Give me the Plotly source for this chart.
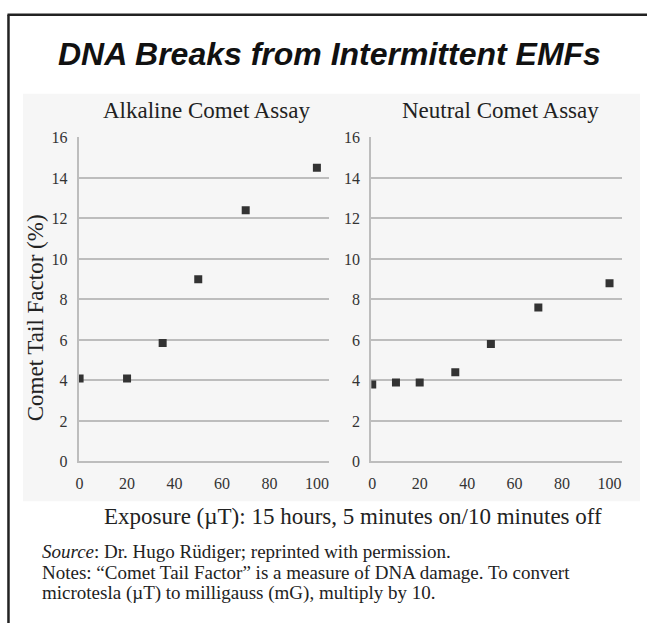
import plotly.graph_objects as go

# ---- data ----
alk_exposure = [0, 20, 35, 50, 70, 100]
alk_ctf = [4.1, 4.1, 5.85, 9.0, 12.4, 14.5]
neu_exposure = [0, 10, 20, 35, 50, 70, 100]
neu_ctf = [3.8, 3.9, 3.9, 4.4, 5.8, 7.6, 8.8]
x_ticks = [0, 20, 40, 60, 80, 100]
y_ticks = [0, 2, 4, 6, 8, 10, 12, 14, 16]

W, H = 647, 632
def px(x):
    return x / W
def py(y):
    return 1 - y / H

SERIF = "Liberation Serif, Times New Roman, serif"
SANS = "Liberation Sans, Arial, sans-serif"
GRID = "#bdbdbd"
MARK = "#333333"

fig = go.Figure()
fig.add_trace(go.Scatter(x=alk_exposure, y=alk_ctf, mode="markers", xaxis="x", yaxis="y",
                         marker=dict(symbol="square", size=8, color=MARK), showlegend=False))
fig.add_trace(go.Scatter(x=neu_exposure, y=neu_ctf, mode="markers", xaxis="x2", yaxis="y2",
                         marker=dict(symbol="square", size=8, color=MARK), showlegend=False))

axis_common_x = dict(range=[-0.4, 105.3], tickvals=x_ticks, showgrid=False, zeroline=False,
                     showline=True, linecolor=GRID, linewidth=2, ticks="",
                     tickfont=dict(family=SERIF, size=16, color="#333"), ticklabelstandoff=6)
axis_common_y = dict(range=[0, 16], tickvals=y_ticks, showgrid=True, gridcolor=GRID, gridwidth=2,
                     zeroline=False, showline=True, linecolor=GRID, linewidth=2, ticks="",
                     tickfont=dict(family=SERIF, size=16, color="#333"), ticklabelstandoff=6)

fig.update_layout(
    width=W, height=H, margin=dict(l=0, r=0, t=0, b=0),
    paper_bgcolor="white", plot_bgcolor="rgba(0,0,0,0)",
    xaxis=dict(domain=[px(76), px(328)], anchor="y", **axis_common_x),
    yaxis=dict(domain=[py(466), py(133)], anchor="x", **axis_common_y),
    xaxis2=dict(domain=[px(370), px(622)], anchor="y2", **axis_common_x),
    yaxis2=dict(domain=[py(466), py(133)], anchor="x2", **axis_common_y),
)

# background panel and frame
fig.add_shape(type="rect", xref="paper", yref="paper", x0=px(20), x1=px(640), y0=py(507), y1=py(88),
              fillcolor="#f6f6f6", line=dict(width=0), layer="below")
fig.add_shape(type="line", xref="paper", yref="paper", x0=px(5.5), x1=px(5.5), y0=py(7), y1=py(632),
              line=dict(color="#222", width=2.5))
fig.add_shape(type="line", xref="paper", yref="paper", x0=px(4.5), x1=px(647), y0=py(7), y1=py(7),
              line=dict(color="#222", width=2.5))

ann = []
ann.append(dict(text="<b><i>DNA Breaks from Intermittent EMFs</i></b>", x=px(328), y=py(47),
                font=dict(family=SANS, size=32, color="#111")))
ann.append(dict(text="Alkaline Comet Assay", x=px(204), y=py(105),
                font=dict(family=SERIF, size=23, color="#222")))
ann.append(dict(text="Neutral Comet Assay", x=px(500), y=py(105),
                font=dict(family=SERIF, size=23, color="#222")))
ann.append(dict(text="Comet Tail Factor (%)", x=px(33), y=py(318), textangle=-90,
                font=dict(family=SERIF, size=23, color="#222")))
ann.append(dict(text="Exposure (µT): 15 hours, 5 minutes on/10 minutes off", x=px(352), y=py(523),
                font=dict(family=SERIF, size=23, color="#222")))
note_lines = ["<i>Source</i>: Dr. Hugo Rüdiger; reprinted with permission.",
              "Notes: “Comet Tail Factor” is a measure of DNA damage. To convert",
              "microtesla (µT) to milligauss (mG), multiply by 10."]
note_y = [558.5, 580, 601.5]
for t, yy in zip(note_lines, note_y):
    ann.append(dict(text=t, x=px(38), y=py(yy), xanchor="left", align="left", borderpad=0,
                    font=dict(family=SERIF, size=19, color="#222")))
for a in ann:
    a.setdefault("xanchor", "center")
    a.update(xref="paper", yref="paper", yanchor="middle", showarrow=False)
fig.update_layout(annotations=ann)

fig.write_html("out.html", config={"displayModeBar": False},
               post_script="document.body.style.margin='0';document.body.style.overflow='hidden';")
